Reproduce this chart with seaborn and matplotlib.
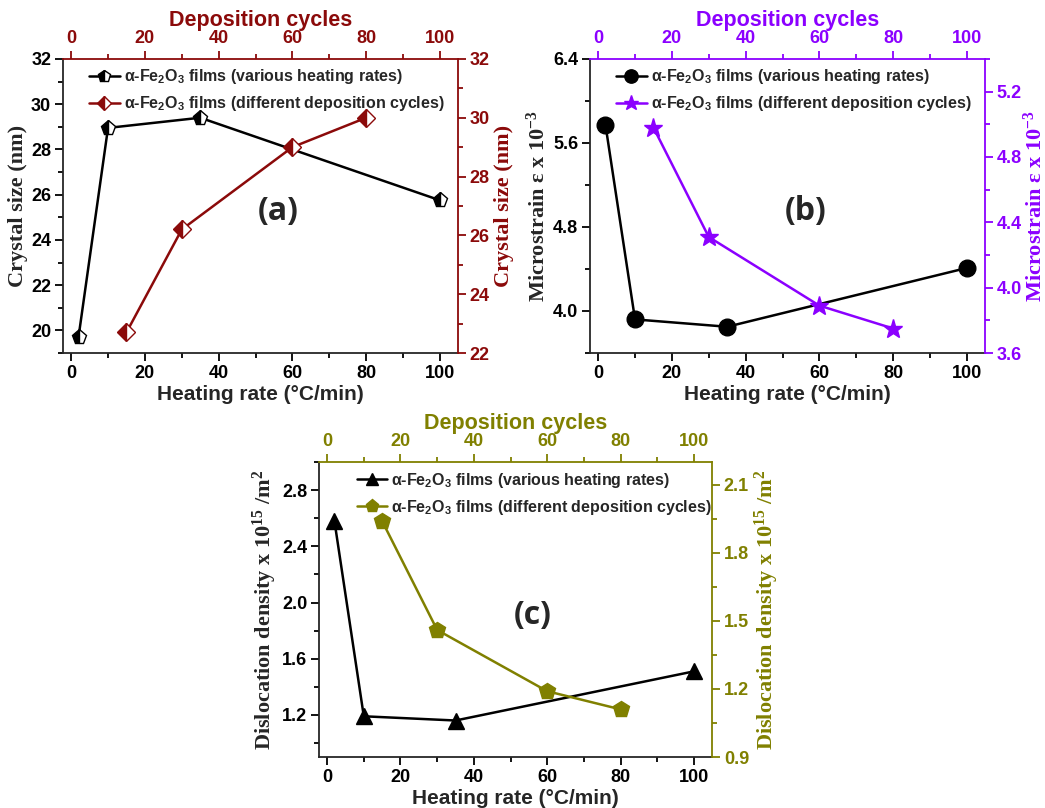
import numpy as np
import matplotlib
matplotlib.use('Agg')
import matplotlib.pyplot as plt
import seaborn as sns
from matplotlib.ticker import MultipleLocator

# heating-rate series (bottom / left axes)
heating_rate = [2, 10, 35, 100]
crystal_heat = [19.7, 28.95, 29.4, 25.75]
strain_heat = [5.77, 3.92, 3.85, 4.41]
disloc_heat = [2.58, 1.19, 1.16, 1.51]

# deposition-cycle series (top / right axes)
dep_cycles = [15, 30, 60, 80]
crystal_dep = [22.7, 26.2, 29.0, 30.0]
strain_dep = [4.98, 4.31, 3.89, 3.75]
disloc_dep = [1.94, 1.46, 1.19, 1.11]

lab_heat = r'α-Fe$_2$O$_3$ films (various heating rates)'
lab_dep = r'α-Fe$_2$O$_3$ films (different deposition cycles)'

sns.set_style('ticks')
plt.rcParams['font.family'] = ['Liberation Sans', 'DejaVu Sans']
plt.rcParams['font.weight'] = 'bold'
plt.rcParams['mathtext.default'] = 'regular'
plt.rcParams['axes.linewidth'] = 1.3

RED = '#8B0A0A'
PURPLE = '#8B00FF'
OLIVE = '#808000'
SERIF = ['Liberation Serif', 'DejaVu Serif']

fig = plt.figure(figsize=(10.45, 8.08), dpi=100)


def style_axis(ax, color, which):
    ax.tick_params(axis=which, which='major', direction='out', length=6, width=1.3,
                   colors=color, labelsize=13, pad=2.5)
    ax.tick_params(axis=which, which='minor', direction='out', length=3.5, width=1.3,
                   colors=color)
    for t in (ax.get_xticklabels() if which == 'x' else ax.get_yticklabels()):
        t.set_fontweight('bold')


def panel(pos, y1, y2, ylim1, ylim2, maj1, min1, maj2, min2, color, ylabel,
          m1, m2, ms1, ms2, tag, leg_anchor, fill=None, rpad=3):
    ax = fig.add_axes(pos)
    ax2 = fig.add_axes(pos, facecolor='none')

    kw1 = dict(marker=m1, markersize=ms1, color='black', linewidth=1.8,
               markeredgecolor='black', markeredgewidth=1.0)
    kw2 = dict(marker=m2, markersize=ms2, color=color, linewidth=1.8,
               markeredgecolor=color, markeredgewidth=1.0)
    if fill:
        kw1.update(fillstyle='left', markerfacecolor='black', markerfacecoloralt='white')
        kw2.update(fillstyle='left', markerfacecolor=color, markerfacecoloralt='white')

    sns.lineplot(x=heating_rate, y=y1, ax=ax, label=lab_heat, errorbar=None, **kw1)
    sns.lineplot(x=dep_cycles, y=y2, ax=ax2, label=lab_dep, errorbar=None, **kw2)

    ax.set_xlim(-2.2, 104.9)
    ax2.set_xlim(-2.2, 104.9)
    ax.set_ylim(*ylim1)
    ax2.set_ylim(*ylim2)

    ax.xaxis.set_major_locator(MultipleLocator(20))
    ax.xaxis.set_minor_locator(MultipleLocator(10))
    ax2.xaxis.set_major_locator(MultipleLocator(20))
    ax2.xaxis.set_minor_locator(MultipleLocator(10))
    ax.yaxis.set_major_locator(MultipleLocator(maj1))
    ax.yaxis.set_minor_locator(MultipleLocator(min1))
    ax2.yaxis.set_major_locator(MultipleLocator(maj2))
    ax2.yaxis.set_minor_locator(MultipleLocator(min2))

    ax2.xaxis.tick_top()
    ax2.xaxis.set_label_position('top')
    ax2.yaxis.tick_right()
    ax2.yaxis.set_label_position('right')

    ax.spines['top'].set_visible(False)
    ax.spines['right'].set_visible(False)
    ax2.spines['left'].set_visible(False)
    ax2.spines['bottom'].set_visible(False)
    ax2.spines['top'].set_color(color)
    ax2.spines['right'].set_color(color)

    style_axis(ax, 'black', 'x')
    style_axis(ax, 'black', 'y')
    style_axis(ax2, color, 'x')
    style_axis(ax2, color, 'y')

    ax.set_xlabel('Heating rate (°C/min)', fontsize=15, fontweight='bold', labelpad=2)
    ax2.set_xlabel('Deposition cycles', fontsize=15.5, fontweight='bold', color=color, labelpad=3)
    ax.set_ylabel(ylabel, fontsize=16, fontweight='bold', family=SERIF, labelpad=2)
    ax2.set_ylabel(ylabel, fontsize=16, fontweight='bold', family=SERIF, color=color,
                   labelpad=rpad)

    ax.text(0.545, 0.48, tag, transform=ax.transAxes, ha='center', va='center',
            fontsize=23, fontweight='bold', family=['Open Sans', 'DejaVu Sans'])

    h1, l1 = ax.get_legend_handles_labels()
    h2, l2 = ax2.get_legend_handles_labels()
    ax.get_legend().remove()
    ax2.get_legend().remove()
    ax2.legend(h1 + h2, l1 + l2, loc='upper left', bbox_to_anchor=leg_anchor,
               frameon=False, handlelength=1.9, handletextpad=0.25, markerscale=0.8,
               labelspacing=0.5, prop={'size': 11.5, 'weight': 'bold'})
    return ax, ax2


panel([0.0603, 0.5631, 0.378, 0.364], crystal_heat, crystal_dep, (19, 32), (22, 32),
      2, 1, 2, 1, RED, 'Crystal size (nm)', 'p', 'D', 11, 9, '(a)', (0.03, 1.02), fill=True)

panel([0.5646, 0.5631, 0.378, 0.364], strain_heat, strain_dep, (3.6, 6.4), (3.6, 5.4),
      0.8, 0.4, 0.4, 0.2, PURPLE, r'Microstrain ε x 10$^{-3}$', 'o', '*', 12, 14, '(b)',
      (0.03, 1.02), rpad=1)

panel([0.3053, 0.0631, 0.376, 0.365], disloc_heat, disloc_dep, (0.9, 3.0), (0.9, 2.2),
      0.4, 0.2, 0.3, 0.15, OLIVE, r'Dislocation density x 10$^{15}$ /m$^2$', '^', 'p', 11, 12,
      '(c)', (0.06, 1.02))

fig.savefig('out.png', dpi=100)
